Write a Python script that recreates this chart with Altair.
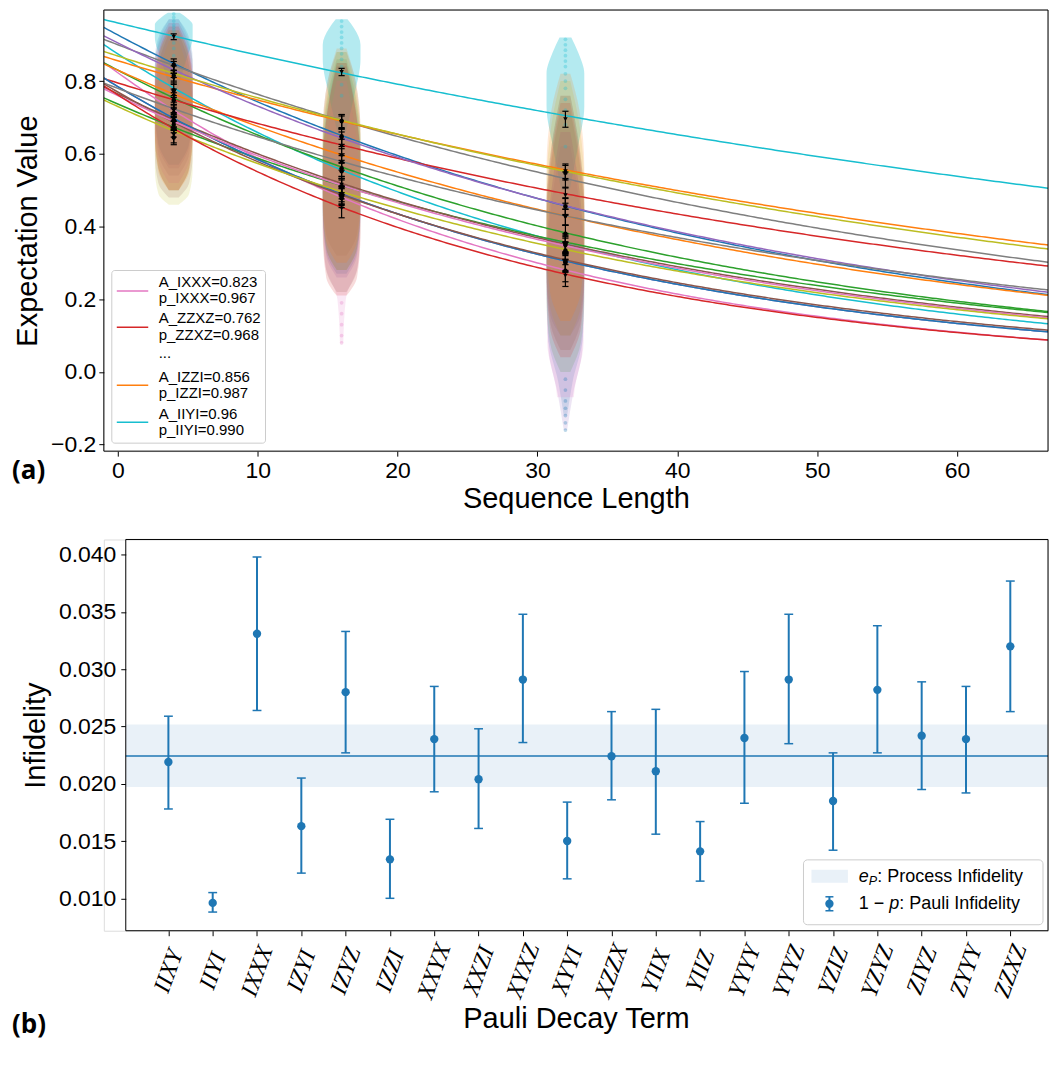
import altair as alt
import pandas as pd

TAB = {"blue": "#1f77b4", "orange": "#ff7f0e", "green": "#2ca02c", "red": "#d62728",
       "purple": "#9467bd", "brown": "#8c564b", "pink": "#e377c2", "gray": "#7f7f7f",
       "olive": "#bcbd22", "cyan": "#17becf"}

# ---------------- data ----------------
TERMS = ["IIXY", "IIYI", "IXXX", "IZYI", "IZYZ", "IZZI", "XXYX", "XXZI", "XYXZ", "XYYI",
         "XZZX", "YIIX", "YIIZ", "YYYY", "YYYZ", "YZIZ", "YZYZ", "ZIYZ", "ZYYY", "ZZXZ"]
INFIDELITY = [0.0219, 0.0096, 0.0331, 0.0163, 0.0280, 0.0134, 0.0239, 0.0204, 0.0291, 0.0150,
              0.0224, 0.0211, 0.0141, 0.0240, 0.0291, 0.0185, 0.0282, 0.0242, 0.0239, 0.0320]
INFID_HI = [0.0259, 0.0105, 0.0398, 0.0205, 0.0333, 0.0169, 0.0285, 0.0248, 0.0348, 0.0184,
            0.0263, 0.0265, 0.0167, 0.0298, 0.0348, 0.0227, 0.0338, 0.0289, 0.0285, 0.0377]
INFID_LO = [0.0178, 0.0088, 0.0264, 0.0122, 0.0227, 0.0100, 0.0193, 0.0161, 0.0236, 0.0117,
            0.0186, 0.0156, 0.0115, 0.0183, 0.0235, 0.0142, 0.0227, 0.0195, 0.0192, 0.0263]
PROCESS_INFID = [0.02243]
PROCESS_LO = [0.01971]
PROCESS_HI = [0.02517]

FIT_A = [0.927, 0.960, 0.823, 0.900, 0.875, 0.856, 0.830, 0.830, 0.785, 0.795,
         0.737, 0.905, 0.869, 0.765, 0.785, 0.780, 0.770, 0.760, 0.730, 0.762]
TERM_COLOR = ["blue", "cyan", "pink", "gray", "cyan", "orange", "green", "orange", "purple", "red",
              "green", "purple", "olive", "brown", "blue", "gray", "brown", "pink", "olive", "red"]
MARKER_SHAPE = ["circle", "triangle-down"] * 10

SEQ_LENGTHS = [4, 16, 32]
MEAN_4 = [0.845, 0.922, 0.712, 0.838, 0.775, 0.806, 0.748, 0.760, 0.690, 0.742,
          0.668, 0.826, 0.815, 0.688, 0.693, 0.718, 0.680, 0.684, 0.645, 0.652]
MEAN_16 = [0.648, 0.825, 0.478, 0.688, 0.552, 0.686, 0.560, 0.594, 0.486, 0.620,
           0.508, 0.640, 0.690, 0.515, 0.485, 0.575, 0.482, 0.510, 0.490, 0.450]
MEAN_32 = [0.455, 0.695, 0.278, 0.528, 0.350, 0.552, 0.380, 0.426, 0.302, 0.486,
           0.354, 0.455, 0.548, 0.348, 0.300, 0.425, 0.305, 0.344, 0.334, 0.265]
ERR_4 = [0.016, 0.008, 0.022, 0.016, 0.020, 0.015, 0.020, 0.018, 0.022, 0.018,
         0.022, 0.016, 0.015, 0.020, 0.020, 0.018, 0.022, 0.020, 0.020, 0.022]
ERR_16 = [0.022, 0.010, 0.026, 0.020, 0.024, 0.018, 0.022, 0.020, 0.024, 0.020,
          0.024, 0.020, 0.018, 0.022, 0.024, 0.020, 0.024, 0.022, 0.022, 0.026]
ERR_32 = [0.024, 0.022, 0.030, 0.022, 0.026, 0.020, 0.024, 0.022, 0.026, 0.022,
          0.026, 0.022, 0.020, 0.024, 0.026, 0.022, 0.026, 0.024, 0.024, 0.030]

# violin outlines (drawn in this order: cool colours first, warm colours on top)
VIOLIN_LENGTH = [4] * 10 + [16] * 10 + [32] * 10
VIOLIN_COLOR = ["blue", "purple", "green", "gray", "cyan", "olive", "pink", "red", "brown", "orange"] * 3
VIOLIN_Y = [
    # length 4
    [0.57, 0.63, 0.74, 0.86, 0.93, 0.97],
    [0.56, 0.62, 0.72, 0.84, 0.92, 0.97],
    [0.50, 0.56, 0.66, 0.78, 0.88, 0.94],
    [0.54, 0.60, 0.72, 0.84, 0.91, 0.96],
    [0.78, 0.86, 0.92, 0.955, 0.975, 0.988],
    [0.46, 0.49, 0.56, 0.70, 0.83, 0.91],
    [0.52, 0.58, 0.68, 0.80, 0.90, 0.96],
    [0.50, 0.56, 0.66, 0.80, 0.89, 0.95],
    [0.48, 0.52, 0.60, 0.74, 0.86, 0.93],
    [0.50, 0.55, 0.64, 0.78, 0.88, 0.94],
    # length 16
    [0.27, 0.33, 0.45, 0.60, 0.74, 0.85],
    [0.26, 0.32, 0.44, 0.58, 0.72, 0.84],
    [0.28, 0.34, 0.46, 0.62, 0.76, 0.86],
    [0.32, 0.38, 0.50, 0.66, 0.80, 0.88],
    [0.66, 0.76, 0.86, 0.90, 0.945, 0.97],
    [0.28, 0.34, 0.46, 0.64, 0.78, 0.88],
    [0.08, 0.20, 0.30, 0.50, 0.66, 0.80],
    [0.21, 0.26, 0.38, 0.56, 0.72, 0.85],
    [0.22, 0.28, 0.40, 0.58, 0.72, 0.84],
    [0.30, 0.36, 0.48, 0.66, 0.80, 0.89],
    # length 32
    [-0.12, -0.03, 0.10, 0.30, 0.50, 0.66],
    [-0.16, -0.06, 0.06, 0.26, 0.46, 0.62],
    [0.00, 0.08, 0.20, 0.40, 0.58, 0.72],
    [0.10, 0.16, 0.28, 0.46, 0.62, 0.76],
    [0.50, 0.62, 0.73, 0.82, 0.88, 0.92],
    [0.10, 0.18, 0.30, 0.50, 0.68, 0.80],
    [-0.07, -0.06, 0.08, 0.30, 0.50, 0.66],
    [0.04, 0.12, 0.26, 0.44, 0.60, 0.74],
    [0.06, 0.14, 0.28, 0.46, 0.62, 0.76],
    [0.14, 0.22, 0.36, 0.56, 0.72, 0.82],
]
HW_STD = [0.35, 1.10, 1.35, 1.35, 1.00, 0.35]
HW_TOP = [0.30, 0.90, 1.35, 1.35, 0.90, 0.42]
VIOLIN_HW = (
    [HW_STD] * 4 + [HW_TOP] + [HW_STD] * 5
    + [HW_STD] * 4 + [HW_TOP] + [HW_STD] + [[0.12, 0.30, 1.20, 1.35, 1.00, 0.35]] + [HW_STD] * 3
    + [[0.12, 0.50, 1.25, 1.35, 1.00, 0.35], [0.12, 0.55, 1.20, 1.35, 1.00, 0.35]]
    + [HW_STD] * 2 + [HW_TOP] + [HW_STD] + [[0.60, 0.62, 1.30, 1.35, 1.00, 0.35]] + [HW_STD] * 3
)
VIOLIN_OPACITY = {"cyan": 0.32}
VIOLIN_OPACITY_DEFAULT = 0.17

# scattered shot values visible along the violin centres
DOT_LENGTH = [4] * 12 + [16] * 12 + [16] * 5 + [32] * 16 + [32] * 7
DOT_COLOR = ["cyan"] * 24 + ["pink"] * 5 + ["cyan"] * 16 + ["blue"] * 7
DOT_Y = [0.985, 0.975, 0.965, 0.955, 0.948, 0.94, 0.93, 0.92, 0.905, 0.89, 0.87, 0.85,
         0.965, 0.95, 0.935, 0.92, 0.905, 0.89, 0.875, 0.86, 0.84, 0.82, 0.79, 0.76,
         0.08, 0.10, 0.13, 0.16, 0.19,
         0.915, 0.90, 0.885, 0.87, 0.855, 0.84, 0.82, 0.80, 0.78, 0.75, 0.72, 0.68,
         0.62, 0.55, 0.45, 0.35,
         -0.16, -0.14, -0.12, -0.10, -0.08, -0.05, -0.02]

LEGEND_TERMS = ["IXXX", "ZZXZ", "IZZI", "IIYI"]
LEGEND_A = ["0.823", "0.762", "0.856", "0.96"]
LEGEND_P = ["0.967", "0.968", "0.987", "0.990"]

X_TICKS_TOP = [0, 10, 20, 30, 40, 50, 60]
Y_TICKS_TOP = [-0.2, 0.0, 0.2, 0.4, 0.6, 0.8]
Y_TICKS_BOTTOM = [0.010, 0.015, 0.020, 0.025, 0.030, 0.035, 0.040]

# ---------------- geometry ----------------
W1, H1 = 946, 442
W2, H2 = 946, 392
FX = 22  # left edge of lower frame inside its view
FONT = "Liberation Sans"
ONE = pd.DataFrame({"a": [0]})


def txt(s, x, y, size, **kw):
    opts = dict(align="left", baseline="middle", font=FONT, color="black")
    opts.update(kw)
    return alt.Chart(pd.DataFrame({"t": [s]})).mark_text(fontSize=size, **opts).encode(
        text="t:N", x=alt.value(x), y=alt.value(y))


AXC = dict(labelFont=FONT, labelFontSize=23, titleFont=FONT, titleFontSize=29,
           titleFontWeight="normal", labelColor="black", titleColor="black",
           tickColor="black", tickSize=5, tickWidth=1, domain=False, grid=False)

xs1 = alt.Scale(domain=[-1, 66.5], nice=False, zero=False)
ys1 = alt.Scale(domain=[-0.218, 0.9956], nice=False, zero=False)
x1_axis = alt.Axis(values=X_TICKS_TOP, title="Sequence Length", titlePadding=2,
                   labelPadding=3, labelFlush=False, **AXC)
y1_axis = alt.Axis(values=Y_TICKS_TOP, title="Expectation Value", format=".1f",
                   titlePadding=8, labelPadding=3, **AXC)


def X1(f):
    return alt.X(f, type="quantitative", scale=xs1, axis=x1_axis, stack=None)


def Y1(f):
    return alt.Y(f, type="quantitative", scale=ys1, axis=y1_axis)


# violins
vrows = []
for vid, (L, c, ys, hws) in enumerate(zip(VIOLIN_LENGTH, VIOLIN_COLOR, VIOLIN_Y, VIOLIN_HW)):
    for y, hw in zip(ys, hws):
        vrows.append({"vid": f"v{vid:02d}", "L": L, "color": TAB[c], "y": y, "hw": hw,
                      "op": VIOLIN_OPACITY.get(c, VIOLIN_OPACITY_DEFAULT)})
violins = alt.Chart(pd.DataFrame(vrows)).transform_calculate(
    xl="datum.L - datum.hw", xr="datum.L + datum.hw"
).mark_area(orient="horizontal", interpolate="monotone").encode(
    y=Y1("y"), x=X1("xl"), x2="xr:Q",
    color=alt.Color("color:N", scale=None), opacity=alt.Opacity("op:Q", scale=None),
    detail="vid:N")

dots = alt.Chart(pd.DataFrame({"L": DOT_LENGTH, "y": DOT_Y,
                               "color": [TAB[c] for c in DOT_COLOR]})).mark_circle(
    size=14, opacity=0.3).encode(x=X1("L"), y=Y1("y"), color=alt.Color("color:N", scale=None))

# fitted curves A * p^m
fit_df = pd.DataFrame({"term": TERMS, "A": FIT_A, "infid": INFIDELITY,
                       "color": [TAB[c] for c in TERM_COLOR]})
curves = alt.Chart(fit_df).transform_calculate(
    xs="sequence(-1, 66.75, 0.25)"
).transform_flatten(["xs"]).transform_calculate(
    yv="datum.A * pow(1 - datum.infid, datum.xs)"
).mark_line(strokeWidth=1.5, clip=True).encode(
    x=X1("xs:Q"), y=Y1("yv:Q"), color=alt.Color("color:N", scale=None), detail="term:N")

# black mean markers with error bars
mrows = []
for L, means, errs in zip(SEQ_LENGTHS, [MEAN_4, MEAN_16, MEAN_32], [ERR_4, ERR_16, ERR_32]):
    for t, m, e, s in zip(TERMS, means, errs, MARKER_SHAPE):
        mrows.append({"term": t, "L": L, "mean": m, "err": e, "shape": s})
mbase = alt.Chart(pd.DataFrame(mrows)).transform_calculate(
    lo="datum.mean - datum.err", hi="datum.mean + datum.err",
    cl="datum.L - 0.22", cr="datum.L + 0.22")
m_rule = mbase.mark_rule(color="black", strokeWidth=1.2).encode(x=X1("L"), y=Y1("lo"), y2="hi:Q")
m_cap1 = mbase.mark_rule(color="black", strokeWidth=1.2).encode(x=X1("cl"), x2="cr:Q", y=Y1("lo"))
m_cap2 = mbase.mark_rule(color="black", strokeWidth=1.2).encode(x=X1("cl"), x2="cr:Q", y=Y1("hi"))
m_pts = mbase.mark_point(filled=True, color="black", size=20, opacity=1).encode(
    x=X1("L"), y=Y1("mean"), shape=alt.Shape("shape:N", scale=None))

# legend (top)
leg1 = [alt.Chart(ONE).mark_rect(fill="white", fillOpacity=0.85, stroke="#cccccc",
                                 strokeWidth=1, cornerRadius=3).encode(
    x=alt.value(8), x2=alt.value(162), y=alt.value(261), y2=alt.value(434))]
LEG_ROWS = [(281.6, 272.1, 288.5), (317.8, 308.9, 325.4), (376.0, 368.1, 383.6), (413.1, 404.3, 420.6)]
for (ly, ta, tp), term, a, p in zip(LEG_ROWS, LEGEND_TERMS, LEGEND_A, LEGEND_P):
    col = TAB[TERM_COLOR[TERMS.index(term)]]
    leg1.append(alt.Chart(ONE).mark_rule(color=col, strokeWidth=1.5).encode(
        x=alt.value(13), x2=alt.value(44.5), y=alt.value(ly)))
    leg1.append(txt(f"A_{term}={a}", 55, ta, 15))
    leg1.append(txt(f"p_{term}={p}", 55, tp, 15))
leg1.append(txt("...", 55, 344, 15))

frame1 = alt.Chart(ONE).mark_rect(fillOpacity=0, stroke="black", strokeWidth=1).encode(
    x=alt.value(0), x2=alt.value(W1), y=alt.value(0), y2=alt.value(H1))
lab_a = txt("(a)", -92, 462, 26, font="Open Sans", fontWeight="bold")

top = alt.layer(violins, dots, curves, m_rule, m_cap1, m_cap2, m_pts, *leg1, frame1,
                lab_a).properties(width=W1, height=H1)

# ---------------- lower panel ----------------
BLUE = TAB["blue"]
xs2 = alt.Scale(domain=[-1.4574, 19.851], nice=False, zero=False)
ys2 = alt.Scale(domain=[0.00717, 0.04133], nice=False, zero=False)
label_expr = "[" + ",".join(f"'{t}'" for t in TERMS) + "][datum.value]"
x2_axis = alt.Axis(values=list(range(len(TERMS))), labelExpr=label_expr, labelAngle=-70,
                   labelAlign="center", labelBaseline="middle", labelPadding=35,
                   labelFont="Liberation Serif", labelFontStyle="italic", labelFontSize=24,
                   labelColor="black", labelOverlap=False, labelFlush=False,
                   title="Pauli Decay Term", titleFont=FONT, titleFontSize=29,
                   titleFontWeight="normal", titleColor="black", titlePadding=3,
                   tickColor="black", tickSize=5, tickWidth=1, domain=False, grid=False)
y2_axis = alt.Axis(values=Y_TICKS_BOTTOM, format=".3f", title="Infidelity", offset=-FX,
                   titlePadding=8, labelPadding=5, **AXC)


def X2(f):
    return alt.X(f, type="quantitative", scale=xs2, axis=x2_axis)


def Y2(f):
    return alt.Y(f, type="quantitative", scale=ys2, axis=y2_axis)


proc = pd.DataFrame({"m": PROCESS_INFID, "lo": PROCESS_LO, "hi": PROCESS_HI})
band = alt.Chart(proc).mark_rect(color="#e9f1f8").encode(
    x=alt.value(FX), x2=alt.value(W2), y=Y2("lo"), y2="hi:Q")
mline = alt.Chart(proc).mark_rule(color=BLUE, strokeWidth=1.5).encode(
    x=alt.value(FX), x2=alt.value(W2), y=Y2("m"))

pdf = pd.DataFrame({"term": TERMS, "idx": list(range(len(TERMS))), "v": INFIDELITY,
                    "lo": INFID_LO, "hi": INFID_HI})
pbase = alt.Chart(pdf).transform_calculate(cl="datum.idx - 0.1", cr="datum.idx + 0.1")
p_rule = pbase.mark_rule(color=BLUE, strokeWidth=2).encode(x=X2("idx"), y=Y2("lo"), y2="hi:Q")
p_cap1 = pbase.mark_rule(color=BLUE, strokeWidth=1.5).encode(x=X2("cl"), x2="cr:Q", y=Y2("lo"))
p_cap2 = pbase.mark_rule(color=BLUE, strokeWidth=1.5).encode(x=X2("cl"), x2="cr:Q", y=Y2("hi"))
p_pts = pbase.mark_circle(color=BLUE, size=70, opacity=1).encode(x=X2("idx"), y=Y2("v"))

leg2 = [
    alt.Chart(ONE).mark_rect(fill="white", fillOpacity=0.85, stroke="#cccccc", strokeWidth=1,
                             cornerRadius=4).encode(
        x=alt.value(701), x2=alt.value(941), y=alt.value(321), y2=alt.value(386)),
    alt.Chart(ONE).mark_rect(color="#e9f1f8").encode(
        x=alt.value(709), x2=alt.value(745.5), y=alt.value(331), y2=alt.value(344)),
    alt.Chart(ONE).mark_rule(color=BLUE, strokeWidth=2).encode(
        x=alt.value(727), y=alt.value(358), y2=alt.value(372)),
    alt.Chart(ONE).mark_rule(color=BLUE, strokeWidth=1.5).encode(
        x=alt.value(723), x2=alt.value(731), y=alt.value(358)),
    alt.Chart(ONE).mark_rule(color=BLUE, strokeWidth=1.5).encode(
        x=alt.value(723), x2=alt.value(731), y=alt.value(372)),
    alt.Chart(ONE).mark_circle(color=BLUE, size=70, opacity=1).encode(
        x=alt.value(727), y=alt.value(365)),
    txt("e", 756.5, 338, 18, fontStyle="italic"),
    txt("P", 766.5, 342.5, 12.5, fontStyle="italic"),
    txt(": Process Infidelity", 775, 338, 18),
    txt("1 \u2212 ", 756.5, 365, 18),
    txt("p", 787, 365, 18, fontStyle="italic"),
    txt(": Pauli Infidelity", 797, 365, 18),
]

frame2 = alt.Chart(ONE).mark_rect(fillOpacity=0, stroke="black", strokeWidth=1).encode(
    x=alt.value(FX), x2=alt.value(W2), y=alt.value(0), y2=alt.value(H2))
lab_b = txt("(b)", -92, 486, 26, font="Open Sans", fontWeight="bold")

bottom = alt.layer(band, mline, p_rule, p_cap1, p_cap2, p_pts, *leg2, frame2, lab_b).properties(
    width=W2, height=H2)

chart = alt.vconcat(top, bottom, spacing=88.5, bounds="flush").properties(
    padding={"left": 3, "top": 0, "right": 0, "bottom": 8}, background="white"
).configure_view(strokeWidth=0, stroke="transparent").configure(font=FONT)

chart.save("out.html", embed_options={"renderer": "svg", "actions": False})
